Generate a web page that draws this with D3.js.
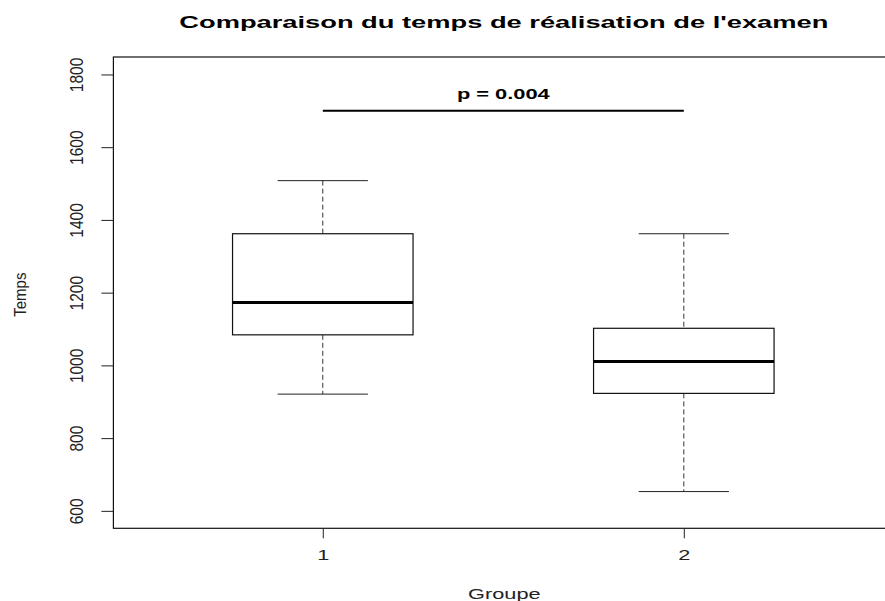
<!DOCTYPE html>
<html>
<head>
<meta charset="utf-8">
<script src="https://cdn.jsdelivr.net/npm/d3@7"></script>
<style>
  body { margin: 0; background: #fff; }
  text { font-family: "Liberation Sans", Arial, sans-serif; }
</style>
</head>
<body>
<div id="chart"></div>
<script>
// box stats
const groups = [1, 2];
const whiskerLow = [921, 653];
const q1 = [1084, 923];
const medians = [1173, 1011];
const q3 = [1362, 1102];
const whiskerHigh = [1508, 1362];
const yTicks = [600, 800, 1000, 1200, 1400, 1600, 1800];

const pLabel = "p = 0.004";
const sigLevel = 1700;

const titleText = "Comparaison du temps de réalisation de l'examen";
const xTitle = "Groupe";
const yTitle = "Temps";

const width = 885;
const height = 601;
// horizontal text in the original is drawn wide
const stretch = 1.5;

// plot region (right edge runs off the image, like in the original)
const x = d3.scaleLinear().domain([0.42, 2.58]).range([113.4, 893.2]);
const y = d3.scaleLinear().domain([552, 1848]).range([528.3, 57]);

const svg = d3.select('#chart')
  .append('svg')
  .attr('width', width)
  .attr('height', height);

// frame
svg.append('rect')
  .attr('x', x.range()[0])
  .attr('y', y.range()[1])
  .attr('width', x.range()[1] - x.range()[0])
  .attr('height', y.range()[0] - y.range()[1])
  .attr('fill', 'none')
  .attr('stroke', '#111')
  .attr('stroke-width', 1.2);

// y axis
const yAxis = svg.append('g')
  .attr('transform', `translate(${x.range()[0]},0)`)
  .call(d3.axisLeft(y).tickValues(yTicks).tickFormat(d3.format('d'))
    .tickSize(12).tickPadding(0).tickSizeOuter(0));
yAxis.select('.domain').remove();
yAxis.selectAll('.tick line').attr('stroke', '#222');
yAxis.selectAll('.tick text')
  .attr('x', 0).attr('dy', 0)
  .attr('transform', 'translate(-36,0) scale(1.15,1) rotate(-90)')
  .attr('text-anchor', 'middle')
  .attr('dominant-baseline', 'central')
  .style('font-size', '15.5px')
  .attr('fill', '#222');

// x axis
const xAxis = svg.append('g')
  .attr('transform', `translate(0,${y.range()[0]})`)
  .call(d3.axisBottom(x).tickValues(groups).tickFormat(d3.format('d'))
    .tickSize(10).tickPadding(0).tickSizeOuter(0));
xAxis.select('.domain').remove();
xAxis.selectAll('.tick line').attr('stroke', '#222');
xAxis.selectAll('.tick text')
  .attr('y', 0).attr('dy', 0)
  .attr('transform', `translate(0,27) scale(${stretch},1)`)
  .attr('dominant-baseline', 'central')
  .style('font-size', '14.5px')
  .attr('fill', '#222');

// boxes
const boxes = svg.selectAll('.box')
  .data(groups.map((g, i) => ({
    g: g, lo: whiskerLow[i], q1: q1[i], med: medians[i], q3: q3[i], hi: whiskerHigh[i]
  })))
  .enter()
  .append('g')
  .classed('box', true);

const halfBox = d => x(d.g + 0.25) - x(d.g);
const halfCap = d => x(d.g + 0.125) - x(d.g);

// dashed whiskers
boxes.append('line')
  .attr('x1', d => x(d.g)).attr('x2', d => x(d.g))
  .attr('y1', d => y(d.hi)).attr('y2', d => y(d.q3))
  .attr('stroke', '#333').attr('stroke-dasharray', '5,3');
boxes.append('line')
  .attr('x1', d => x(d.g)).attr('x2', d => x(d.g))
  .attr('y1', d => y(d.q1)).attr('y2', d => y(d.lo))
  .attr('stroke', '#333').attr('stroke-dasharray', '5,3');

// staples
boxes.append('line')
  .attr('x1', d => x(d.g) - halfCap(d)).attr('x2', d => x(d.g) + halfCap(d))
  .attr('y1', d => y(d.hi)).attr('y2', d => y(d.hi))
  .attr('stroke', '#222');
boxes.append('line')
  .attr('x1', d => x(d.g) - halfCap(d)).attr('x2', d => x(d.g) + halfCap(d))
  .attr('y1', d => y(d.lo)).attr('y2', d => y(d.lo))
  .attr('stroke', '#222');

boxes.append('rect')
  .attr('x', d => x(d.g) - halfBox(d))
  .attr('width', d => 2 * halfBox(d))
  .attr('y', d => y(d.q3))
  .attr('height', d => y(d.q1) - y(d.q3))
  .attr('fill', 'white')
  .attr('stroke', '#111')
  .attr('stroke-width', 1.2);

boxes.append('line')
  .attr('x1', d => x(d.g) - halfBox(d)).attr('x2', d => x(d.g) + halfBox(d))
  .attr('y1', d => y(d.med)).attr('y2', d => y(d.med))
  .attr('stroke', '#000').attr('stroke-width', 3);

// significance bar
const midX = (x(groups[0]) + x(groups[1])) / 2;
svg.append('line')
  .attr('x1', x(groups[0])).attr('x2', x(groups[1]))
  .attr('y1', y(sigLevel)).attr('y2', y(sigLevel))
  .attr('stroke', '#000').attr('stroke-width', 2);
svg.append('text')
  .attr('transform', `translate(${midX},${y(sigLevel) - 12}) scale(${stretch * 1.04},1)`)
  .attr('text-anchor', 'middle')
  .style('font-size', '14px')
  .style('font-weight', 'bold')
  .text(pLabel);

// titles
svg.append('text')
  .attr('transform', `translate(${midX + 0.5},28) scale(${stretch * 1.07},1)`)
  .attr('text-anchor', 'middle')
  .style('font-size', '17px')
  .style('font-weight', 'bold')
  .text(titleText);

svg.append('text')
  .attr('transform', `translate(${midX + 1},598.5) scale(${stretch},1)`)
  .attr('text-anchor', 'middle')
  .style('font-size', '14.5px')
  .attr('fill', '#222')
  .text(xTitle);

svg.append('text')
  .attr('transform', `translate(26,${(y.range()[0] + y.range()[1]) / 2 + 2}) scale(1.15,1) rotate(-90)`)
  .attr('text-anchor', 'middle')
  .style('font-size', '15px')
  .attr('fill', '#222')
  .text(yTitle);
</script>
</body>
</html>
